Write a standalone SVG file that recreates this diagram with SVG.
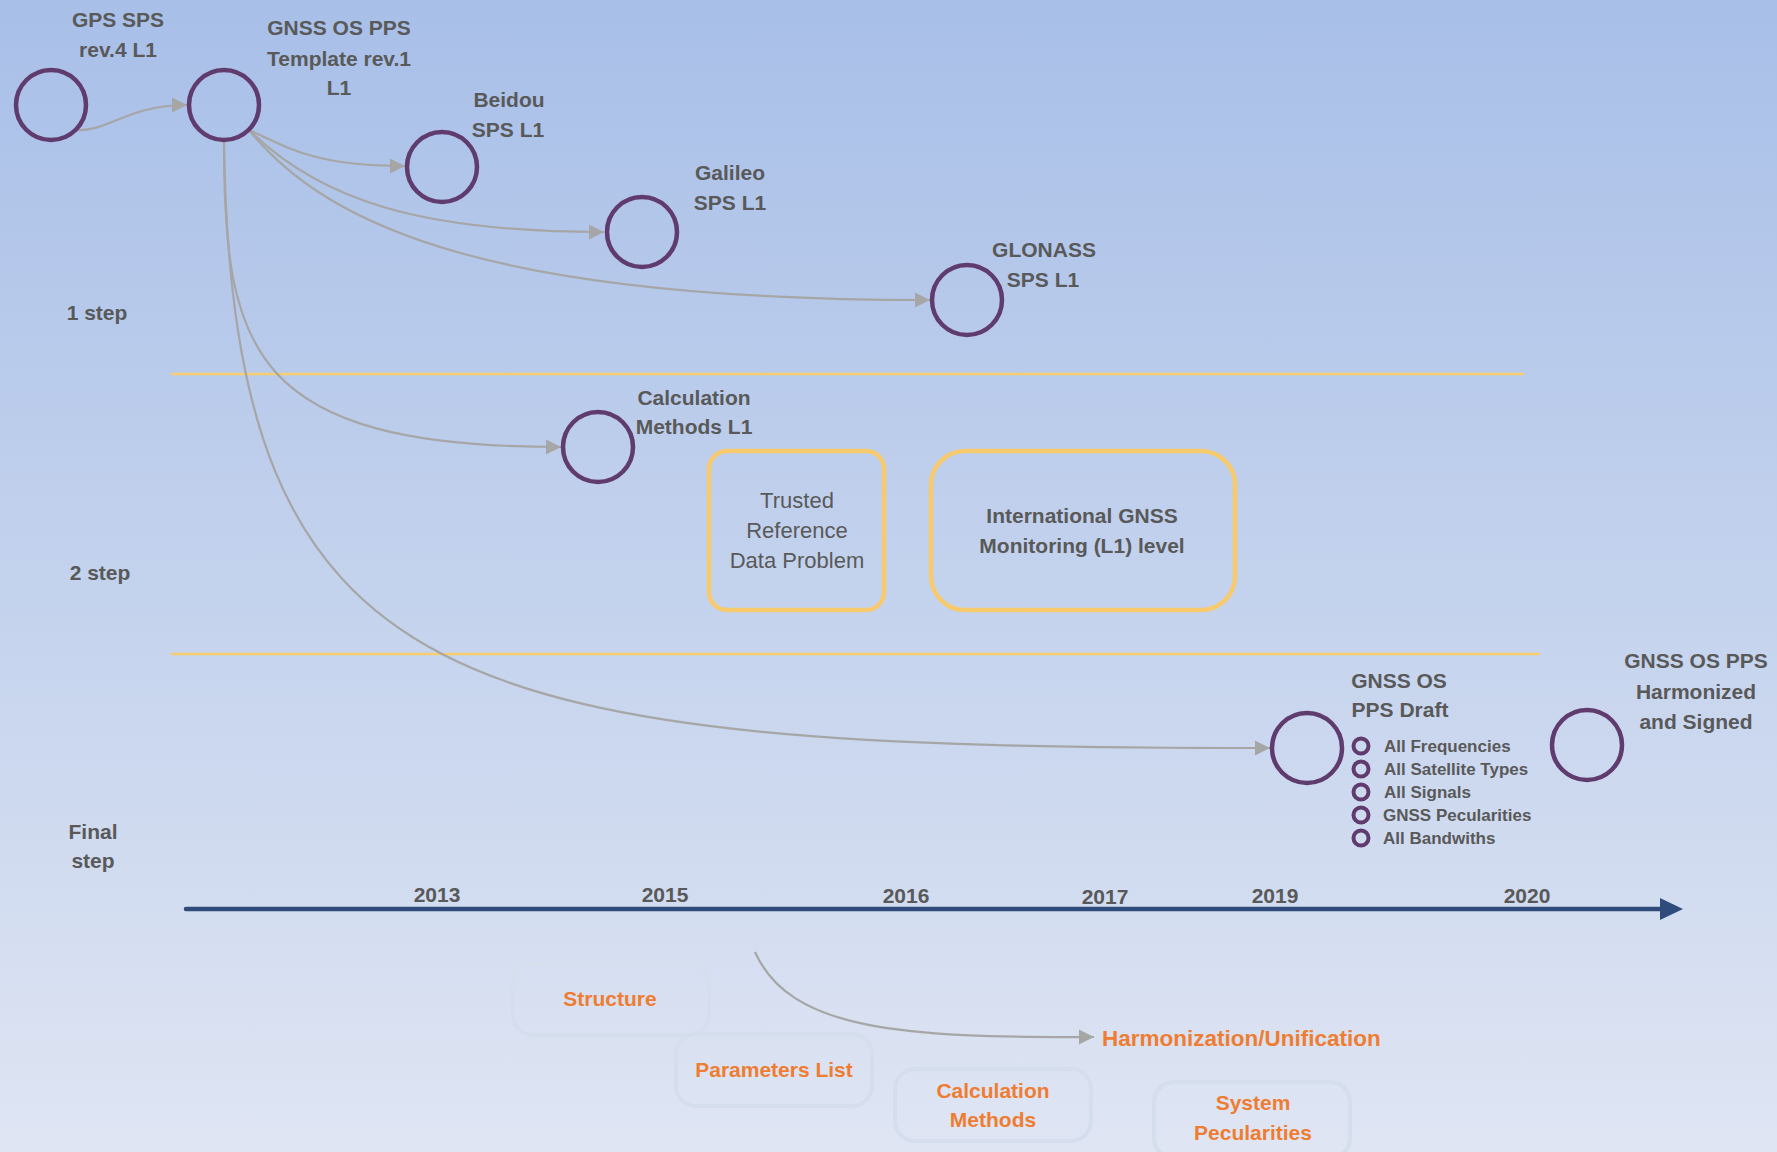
<svg xmlns="http://www.w3.org/2000/svg" width="1777" height="1152" viewBox="0 0 1777 1152">
<defs>
  <linearGradient id="bg" x1="0" y1="0" x2="0" y2="1">
    <stop offset="0" stop-color="#a8bfe8"/>
    <stop offset="0.5" stop-color="#c3d2ed"/>
    <stop offset="1" stop-color="#dfe5f3"/>
  </linearGradient>
  <marker id="arr" markerWidth="16" markerHeight="16" refX="15" refY="8" orient="auto" markerUnits="userSpaceOnUse">
    <path d="M0,0.5 L15,8 L0,15.5 z" fill="#a6a6a6"/>
  </marker>
  <style>
    .node { fill: none; stroke: #5f3b6e; stroke-width: 4.5; }
    .bullet { fill: none; stroke: #5f3b6e; stroke-width: 4; }
    .lbl { font-family: "Liberation Sans", Arial, sans-serif; font-weight: bold; font-size: 21px; fill: #595959; text-anchor: middle; }
    .reg { font-family: "Liberation Sans", Arial, sans-serif; font-size: 22px; fill: #595959; text-anchor: middle; }
    .item { font-family: "Liberation Sans", Arial, sans-serif; font-weight: bold; font-size: 17px; fill: #595959; }
    .orange { font-family: "Liberation Sans", Arial, sans-serif; font-weight: bold; font-size: 21px; fill: #ef7d31; text-anchor: middle; }
    .conn { fill: none; stroke: #a6a6a6; stroke-width: 2.2; marker-end: url(#arr); }
    .sep { stroke: #f7cd6f; stroke-width: 2.5; }
    .ybox { fill: none; stroke: #f8ca6e; stroke-width: 4.5; }
    .fbox { fill: none; stroke: #d4deed; stroke-width: 4; }
  </style>
</defs>

<rect x="0" y="0" width="1777" height="1152" fill="url(#bg)"/>

<g id="separators">
  <line class="sep" x1="171" y1="374" x2="1524" y2="374"/>
  <line class="sep" x1="171" y1="654" x2="1540" y2="654"/>
</g>

<g id="step-labels">
  <text class="lbl" x="97" y="320">1 step</text>
  <text class="lbl" x="100" y="580">2 step</text>
  <text class="lbl" x="93" y="839">Final</text>
  <text class="lbl" x="93" y="868">step</text>
</g>

<g id="timeline">
  <line x1="186" y1="909" x2="1664" y2="909" stroke="#2f4b7c" stroke-width="4.5" stroke-linecap="round"/>
  <polygon points="1660,898 1683,909 1660,920" fill="#2f4b7c"/>
  <text class="lbl" x="437" y="902">2013</text>
  <text class="lbl" x="665" y="902">2015</text>
  <text class="lbl" x="906" y="903">2016</text>
  <text class="lbl" x="1105" y="904">2017</text>
  <text class="lbl" x="1275" y="903">2019</text>
  <text class="lbl" x="1527" y="903">2020</text>
</g>

<g id="connectors">
  <path class="conn" d="M77,130 C110,131 128,105 187,105"/>
  <path class="conn" d="M249,130 C292,150 318,166 405,166"/>
  <path class="conn" d="M249,130 C320,200 420,232 604,232"/>
  <path class="conn" d="M249,130 C330,230 500,300 930,300"/>
  <path class="conn" d="M224,142 C224,350 250,447 561,447"/>
  <path class="conn" d="M224,142 C232,700 450,748 1270,748"/>
  <path class="conn" d="M755,952 C790,1030 900,1038 1094,1037"/>
</g>

<g id="node-gps">
  <circle class="node" cx="51" cy="105" r="35"/>
  <text class="lbl" x="118" y="27">GPS SPS</text>
  <text class="lbl" x="118" y="57">rev.4 L1</text>
</g>

<g id="node-template">
  <circle class="node" cx="224" cy="105" r="35"/>
  <text class="lbl" x="339" y="35">GNSS OS PPS</text>
  <text class="lbl" x="339" y="66">Template rev.1</text>
  <text class="lbl" x="339" y="95">L1</text>
</g>

<g id="node-beidou">
  <circle class="node" cx="442" cy="167" r="35"/>
  <text class="lbl" x="509" y="107">Beidou</text>
  <text class="lbl" x="508" y="137">SPS L1</text>
</g>

<g id="node-galileo">
  <circle class="node" cx="642" cy="232" r="35"/>
  <text class="lbl" x="730" y="180">Galileo</text>
  <text class="lbl" x="730" y="210">SPS L1</text>
</g>

<g id="node-glonass">
  <circle class="node" cx="967" cy="300" r="35"/>
  <text class="lbl" x="1044" y="257">GLONASS</text>
  <text class="lbl" x="1043" y="287">SPS L1</text>
</g>

<g id="node-calc">
  <circle class="node" cx="598" cy="447" r="35"/>
  <text class="lbl" x="694" y="405">Calculation</text>
  <text class="lbl" x="694" y="434">Methods L1</text>
</g>

<g id="box-trusted">
  <rect class="ybox" x="709" y="451" width="175" height="159" rx="18"/>
  <text class="reg" x="797" y="508">Trusted</text>
  <text class="reg" x="797" y="538">Reference</text>
  <text class="reg" x="797" y="568">Data Problem</text>
</g>

<g id="box-monitoring">
  <rect class="ybox" x="931" y="451" width="304" height="159" rx="34"/>
  <text class="lbl" x="1082" y="523">International GNSS</text>
  <text class="lbl" x="1082" y="553">Monitoring (L1) level</text>
</g>

<g id="node-draft">
  <circle class="node" cx="1307" cy="748" r="35"/>
  <text class="lbl" x="1399" y="688">GNSS OS</text>
  <text class="lbl" x="1400" y="717">PPS Draft</text>
  <circle class="bullet" cx="1361" cy="746" r="7.5"/>
  <circle class="bullet" cx="1361" cy="769" r="7.5"/>
  <circle class="bullet" cx="1361" cy="792" r="7.5"/>
  <circle class="bullet" cx="1361" cy="815" r="7.5"/>
  <circle class="bullet" cx="1361" cy="838" r="7.5"/>
  <text class="item" x="1384" y="752">All Frequencies</text>
  <text class="item" x="1384" y="775">All Satellite Types</text>
  <text class="item" x="1384" y="798">All Signals</text>
  <text class="item" x="1383" y="821">GNSS Pecularities</text>
  <text class="item" x="1383" y="844">All Bandwiths</text>
</g>

<g id="node-harmonized">
  <circle class="node" cx="1587" cy="745" r="35"/>
  <text class="lbl" x="1696" y="668">GNSS OS PPS</text>
  <text class="lbl" x="1696" y="699">Harmonized</text>
  <text class="lbl" x="1696" y="729">and Signed</text>
</g>

<g id="box-structure">
  <rect class="fbox" x="513" y="963" width="196" height="72" rx="20"/>
  <text class="orange" x="610" y="1006">Structure</text>
</g>

<g id="box-parameters">
  <rect class="fbox" x="676" y="1034" width="196" height="72" rx="20"/>
  <text class="orange" x="774" y="1077">Parameters List</text>
</g>

<g id="box-calcmethods">
  <rect class="fbox" x="895" y="1069" width="196" height="72" rx="20"/>
  <text class="orange" x="993" y="1098">Calculation</text>
  <text class="orange" x="993" y="1127">Methods</text>
</g>

<g id="box-system">
  <rect class="fbox" x="1154" y="1082" width="196" height="76" rx="20"/>
  <text class="orange" x="1253" y="1110">System</text>
  <text class="orange" x="1253" y="1140">Pecularities</text>
</g>

<g id="label-harmonization">
  <text class="orange" x="1102" y="1046" style="text-anchor:start;font-size:22.5px">Harmonization/Unification</text>
</g>
</svg>
